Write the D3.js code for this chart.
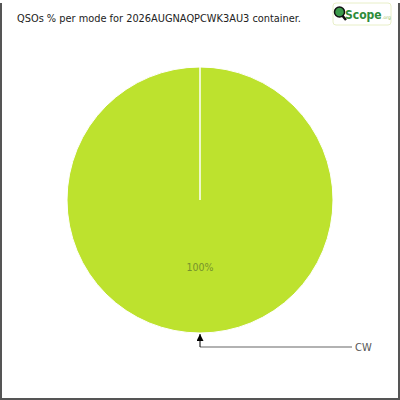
<!DOCTYPE html>
<html>
<head>
<meta charset="utf-8">
<script src="https://cdn.jsdelivr.net/npm/d3@7"></script>
<style>
  body { margin: 0; background: #fff; }
  svg { display: block; }
</style>
</head>
<body>
<div id="chart"></div>
<script>
// Chart data
const title = "QSOs % per mode for 2026AUGNAQPCWK3AU3 container.";
const modes = ["CW"];
const percents = [100];
const colors = ["#bde22e"];

const width = 400, height = 400;
const cx = 200, cy = 200, radius = 133;

const svg = d3.select("#chart").append("svg")
  .attr("width", width)
  .attr("height", height);

svg.append("rect")
  .attr("width", width).attr("height", height)
  .attr("fill", "#fff");

// Frame (no top edge)
svg.append("path")
  .attr("d", "M1,3 V399 H399 V3")
  .attr("fill", "none")
  .attr("stroke", "#555")
  .attr("stroke-width", 2);

// Title
svg.append("text")
  .attr("x", 17).attr("y", 22)
  .attr("font-family", "DejaVu Sans Condensed, DejaVu Sans, sans-serif")
  .attr("font-size", 10.9)
  .attr("fill", "#222")
  .text(title);

// Logo
const logo = svg.append("g").attr("transform", "translate(333,3)");
logo.append("rect")
  .attr("width", 58).attr("height", 22).attr("rx", 3)
  .attr("fill", "#fff").attr("stroke", "#e8efc8");
logo.append("line")
  .attr("x1", 8).attr("y1", 11).attr("x2", 13).attr("y2", 17)
  .attr("stroke", "#111").attr("stroke-width", 2.5);
logo.append("circle")
  .attr("cx", 6.5).attr("cy", 9).attr("r", 5)
  .attr("fill", "#3a9a4a").attr("stroke", "#111").attr("stroke-width", 1.5);
const scopeText = logo.append("text")
  .attr("x", 12).attr("y", 16)
  .attr("font-family", "DejaVu Sans Condensed, sans-serif")
  .attr("font-weight", "bold")
  .attr("font-size", 12)
  .attr("fill", "#2e8b3a")
  .text("Scope");
const scopeW = scopeText.node().getComputedTextLength();
logo.append("text")
  .attr("x", 12 + scopeW + 0.5).attr("y", 16)
  .attr("font-family", "DejaVu Sans, sans-serif")
  .attr("font-size", 4.5)
  .attr("fill", "#9ac060")
  .text(".org");

// Pie
const pie = d3.pie().sort(null).value(d => d)(percents);
const arc = d3.arc().innerRadius(0).outerRadius(radius);

const g = svg.append("g").attr("transform", `translate(${cx},${cy})`);

g.selectAll("path.slice")
  .data(pie)
  .enter().append("path")
  .attr("class", "slice")
  .attr("d", arc)
  .attr("fill", (d, i) => colors[i])
  .attr("stroke", "#fff")
  .attr("stroke-width", 1);

// Slice start edge
g.selectAll("line.edge")
  .data(pie)
  .enter().append("line")
  .attr("class", "edge")
  .attr("x1", 0).attr("y1", 0)
  .attr("x2", d => radius * Math.sin(d.startAngle))
  .attr("y2", d => -radius * Math.cos(d.startAngle))
  .attr("stroke", "#fff").attr("stroke-width", 1.5);

// Percent labels (mid-radius)
g.selectAll("text.pct")
  .data(pie)
  .enter().append("text")
  .attr("class", "pct")
  .attr("transform", d => {
    const a = (d.startAngle + d.endAngle) / 2;
    return `translate(${(radius / 2) * Math.sin(a)},${-(radius / 2) * Math.cos(a) + 4})`;
  })
  .attr("text-anchor", "middle")
  .attr("font-family", "DejaVu Sans Condensed, sans-serif")
  .attr("font-size", 10.5)
  .attr("fill", "#76922c")
  .text(d => `${d.data}%`);

// Callout labels
svg.append("defs").append("marker")
  .attr("id", "arrow")
  .attr("viewBox", "0 0 10 10")
  .attr("refX", 10).attr("refY", 5)
  .attr("markerWidth", 7).attr("markerHeight", 7)
  .attr("markerUnits", "userSpaceOnUse")
  .attr("orient", "auto")
  .append("path")
  .attr("d", "M0,0 L10,5 L0,10 Z")
  .attr("fill", "#000");

g.selectAll("g.callout")
  .data(pie)
  .enter().append("g")
  .attr("class", "callout")
  .each(function(d) {
    const a = (d.startAngle + d.endAngle) / 2;
    const px = radius * Math.sin(a), py = -radius * Math.cos(a);
    const sel = d3.select(this);
    sel.append("line")
      .attr("x1", px).attr("y1", py + 14)
      .attr("x2", 152).attr("y2", py + 14)
      .attr("stroke", "#999").attr("stroke-width", 1.5);
    sel.append("line")
      .attr("x1", px).attr("y1", py + 14)
      .attr("x2", px).attr("y2", py + 1)
      .attr("stroke", "#000").attr("stroke-width", 1)
      .attr("marker-end", "url(#arrow)");
    sel.append("text")
      .attr("x", 155).attr("y", py + 18)
      .attr("font-family", "DejaVu Sans Condensed, sans-serif")
      .attr("font-size", 11)
      .attr("fill", "#555")
      .text(modes[d.index]);
  });
</script>
</body>
</html>
